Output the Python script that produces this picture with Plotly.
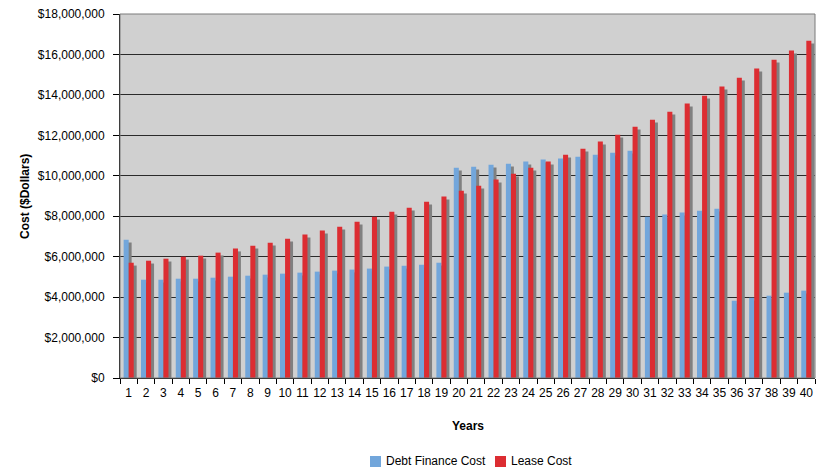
import plotly.graph_objects as go

# Annual cost comparison, years 1-40
years = list(range(1, 41))

debt_finance_cost = [
    6.84, 4.86, 4.86, 4.91, 4.91, 4.96, 5.01, 5.06, 5.11, 5.16,
    5.21, 5.26, 5.31, 5.36, 5.41, 5.51, 5.55, 5.60, 5.70, 10.40,
    10.45, 10.55, 10.60, 10.70, 10.80, 10.85, 10.94, 11.04, 11.14, 11.24,
    7.98, 8.08, 8.18, 8.27, 8.37, 3.82, 3.97, 4.07, 4.22, 4.32,
]
lease_cost = [
    5.70, 5.80, 5.90, 6.00, 6.05, 6.20, 6.40, 6.54, 6.69, 6.89,
    7.09, 7.29, 7.48, 7.73, 7.98, 8.22, 8.42, 8.72, 8.97, 9.26,
    9.51, 9.81, 10.10, 10.40, 10.70, 11.04, 11.34, 11.69, 12.03, 12.43,
    12.77, 13.17, 13.57, 13.96, 14.41, 14.85, 15.30, 15.74, 16.19, 16.68,
]
# values above are in millions of dollars
debt_finance_cost = [v * 1e6 for v in debt_finance_cost]
lease_cost = [v * 1e6 for v in lease_cost]

series_names = ["Debt Finance Cost", "Lease Cost"]

y_ticks = list(range(0, 18_000_001, 2_000_000))
y_tick_text = ["$0"] + [f"${v:,}" for v in y_ticks[1:]]

BLUE = "#72A6DB"
RED = "#DC2D32"
SHADOW = "#808080"

BAR_W = 0.29        # bar width in category units
SHADOW_DX = 0.17    # depth offset of the shadow to the right
SHADOW_DY = 0.14e6  # shadow top sits slightly lower

# plot area in pixels, used to place the hand-drawn legend and titles
PLOT_L, PLOT_R, PLOT_T, PLOT_B = 120, 815, 14, 378
PW, PH = PLOT_R - PLOT_L, PLOT_B - PLOT_T


def px_x(px):
    return (px - PLOT_L) / PW


def px_y(py):
    return (PLOT_B - py) / PH


fig = go.Figure()

# depth shadow behind the debt finance bars
fig.add_trace(go.Bar(
    x=years, y=[v - SHADOW_DY for v in debt_finance_cost],
    width=BAR_W, offset=-BAR_W + SHADOW_DX,
    marker=dict(color=SHADOW, line=dict(width=0)),
    showlegend=False, hoverinfo="skip",
))
fig.add_trace(go.Bar(
    x=years, y=debt_finance_cost, name=series_names[0],
    width=BAR_W, offset=-BAR_W,
    marker=dict(color=BLUE, line=dict(width=0)),
    showlegend=False,
))
# depth shadow behind the lease bars
fig.add_trace(go.Bar(
    x=years, y=[v - SHADOW_DY for v in lease_cost],
    width=BAR_W, offset=SHADOW_DX,
    marker=dict(color=SHADOW, line=dict(width=0)),
    showlegend=False, hoverinfo="skip",
))
fig.add_trace(go.Bar(
    x=years, y=lease_cost, name=series_names[1],
    width=BAR_W, offset=0,
    marker=dict(color=RED, line=dict(width=0)),
    showlegend=False,
))

font_family = "Liberation Sans, Arial, sans-serif"

# compact legend below the axis title: colour square followed by its label
legend_items = [(BLUE, series_names[0], 370), (RED, series_names[1], 495)]
legend_shapes = []
legend_notes = []
for color, label, left in legend_items:
    legend_shapes.append(dict(
        type="rect", xref="paper", yref="paper",
        x0=px_x(left), x1=px_x(left + 11), y0=px_y(467), y1=px_y(456),
        fillcolor=color, line=dict(width=0),
    ))
    legend_notes.append(dict(
        text=label, xref="paper", yref="paper",
        x=px_x(left + 14), y=px_y(461), xanchor="left", yanchor="middle",
        showarrow=False, font=dict(size=12),
    ))

fig.update_layout(
    width=816, height=469,
    margin=dict(l=PLOT_L, r=816 - PLOT_R, t=PLOT_T, b=469 - PLOT_B,
                autoexpand=False),
    barmode="overlay",
    showlegend=False,
    paper_bgcolor="white",
    plot_bgcolor="#D0D0D0",
    font=dict(family=font_family, size=12, color="black"),
    xaxis=dict(
        range=[0.5, 40.5],
        tickmode="array", tickvals=years, ticktext=[str(y) for y in years],
        ticks="outside", ticklen=4, tickcolor="rgba(0,0,0,0)",
        showgrid=False, zeroline=False,
        showline=True, linecolor="black", linewidth=1,
        minor=dict(ticks="outside", ticklen=5, tickcolor="black",
                   tick0=0.5, dtick=1, showgrid=False),
        tickfont=dict(size=12),
        fixedrange=True,
    ),
    yaxis=dict(
        range=[0, 18_000_000],
        tickmode="array", tickvals=y_ticks, ticktext=y_tick_text,
        ticks="outside", ticklen=6, tickcolor="black",
        ticklabelstandoff=6,
        showgrid=True, gridcolor="#2a2a2a", gridwidth=1,
        zeroline=False,
        showline=True, linecolor="black", linewidth=1,
        tickfont=dict(size=12),
        fixedrange=True,
    ),
    annotations=[
        dict(text="<b>Years</b>", xref="paper", yref="paper",
             x=0.5, y=px_y(426), xanchor="center", yanchor="middle",
             showarrow=False, font=dict(size=12)),
        dict(text="<b>Cost ($Dollars)</b>", xref="paper", yref="paper",
             x=px_x(25), y=0.5, xanchor="center", yanchor="middle",
             textangle=-90, showarrow=False, font=dict(size=12)),
    ] + legend_notes,
    shapes=[
        dict(type="rect", xref="paper", yref="paper", x0=0, x1=1, y0=0, y1=1,
             line=dict(color="#7a7a7a", width=1), layer="above"),
    ] + legend_shapes,
)

fig.write_html("out.html")
